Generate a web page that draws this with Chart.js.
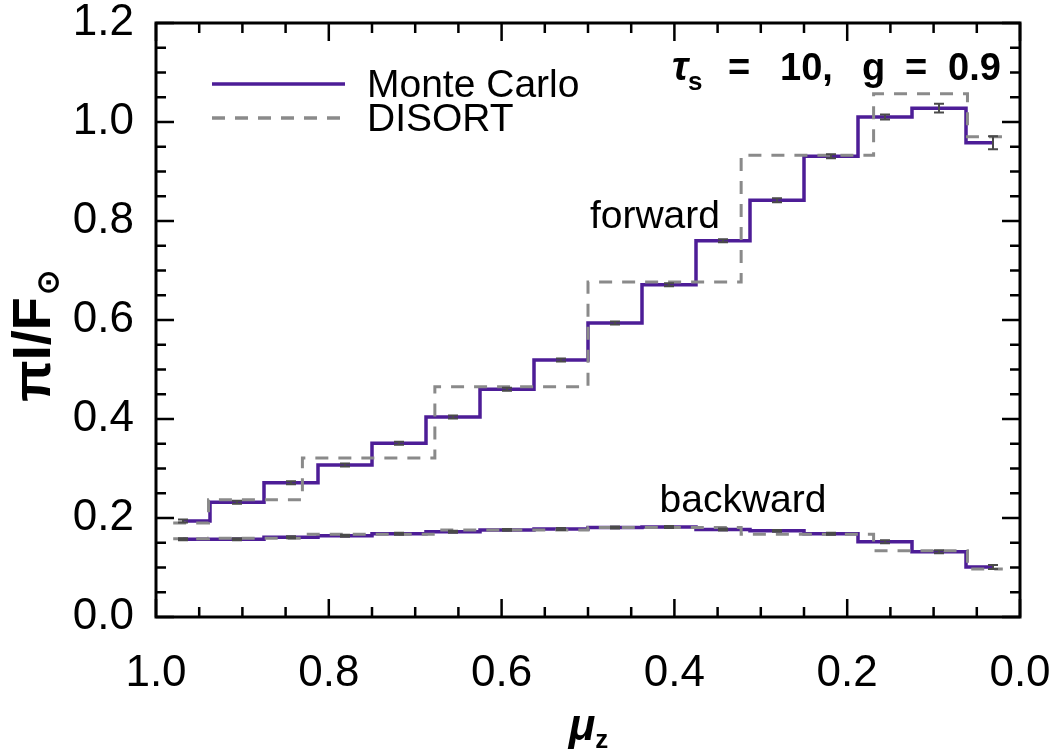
<!DOCTYPE html>
<html>
<head>
<meta charset="utf-8">
<script src="https://cdn.jsdelivr.net/npm/chart.js@4.4.1/dist/chart.umd.min.js"></script>
<style>
    html, body { margin: 0; padding: 0; background: #fff; }
    #wrap { width: 1050px; height: 750px; }
</style>
</head>
<body>
<div id="wrap"><canvas id="chart" width="1050" height="750"></canvas></div>
<script>
// mu_z bin centres of the Monte Carlo histogram
var muMC = [0.96875, 0.90625, 0.84375, 0.78125, 0.71875, 0.65625, 0.59375, 0.53125,
            0.46875, 0.40625, 0.34375, 0.28125, 0.21875, 0.15625, 0.09375, 0.03125];
var mcForward = [0.194, 0.232, 0.271, 0.307, 0.351, 0.404, 0.460, 0.519,
                 0.594, 0.671, 0.760, 0.842, 0.931, 1.010, 1.028, 0.958];
var mcForwardErr = [0.003, 0.003, 0.003, 0.003, 0.003, 0.003, 0.003, 0.003,
                    0.003, 0.003, 0.003, 0.004, 0.004, 0.005, 0.009, 0.013];
var mcBackward = [0.157, 0.157, 0.161, 0.164, 0.168, 0.172, 0.176, 0.178,
                  0.181, 0.182, 0.177, 0.174, 0.168, 0.152, 0.132, 0.101];
var mcBackwardErr = [0.002, 0.002, 0.002, 0.002, 0.002, 0.002, 0.002, 0.002,
                     0.002, 0.002, 0.002, 0.002, 0.002, 0.003, 0.003, 0.004];

// DISORT quadrature angles
var muDisort = [0.9801, 0.8983, 0.7628, 0.5917, 0.4083, 0.2372, 0.1017, 0.0199];
var disortForward = [0.190, 0.237, 0.321, 0.465, 0.677, 0.933, 1.057, 0.970];
var disortBackward = [0.158, 0.159, 0.167, 0.176, 0.181, 0.167, 0.134, 0.097];

var xTicks = [1.0, 0.8, 0.6, 0.4, 0.2, 0.0];
var yTicks = [0.0, 0.2, 0.4, 0.6, 0.8, 1.0, 1.2];

var PURPLE = '#4d1d97';
var GREY = '#8a8a8a';
var FONT = '"Liberation Sans", Arial, sans-serif';

function pts(xs, ys) {
    var out = [];
    for (var i = 0; i < xs.length; i++) {
        out.push({x: xs[i], y: ys[i]});
    }
    return out;
}

// box with inward ticks, error bars and the text labels
var decorations = {
    id: 'decorations',
    afterDatasetsDraw: function (chart) {
        var ctx = chart.ctx;
        var xs = chart.scales.x, ys = chart.scales.y;

        // error bars on the Monte Carlo bins
        ctx.save();
        ctx.strokeStyle = '#4a4a4a';
        ctx.lineWidth = 2;
        var sets = [[mcForward, mcForwardErr], [mcBackward, mcBackwardErr]];
        for (var s = 0; s < sets.length; s++) {
            for (var i = 0; i < muMC.length; i++) {
                var px = xs.getPixelForValue(muMC[i]);
                var top = ys.getPixelForValue(sets[s][0][i] + sets[s][1][i]);
                var bot = ys.getPixelForValue(sets[s][0][i] - sets[s][1][i]);
                ctx.beginPath();
                ctx.moveTo(px, top); ctx.lineTo(px, bot);
                ctx.moveTo(px - 5, top); ctx.lineTo(px + 5, top);
                ctx.moveTo(px - 5, bot); ctx.lineTo(px + 5, bot);
                ctx.stroke();
            }
        }
        ctx.restore();
    },
    afterDraw: function (chart) {
        var ctx = chart.ctx;
        var xs = chart.scales.x, ys = chart.scales.y;
        var a = chart.chartArea;

        ctx.save();
        ctx.strokeStyle = '#000';
        ctx.lineWidth = 3;
        ctx.strokeRect(a.left, a.top, a.right - a.left, a.bottom - a.top);

        ctx.lineWidth = 2.5;
        ctx.beginPath();
        for (var k = 0; k <= 20; k++) {
            var v = k * 0.05;
            var len = (k % 4 === 0) ? 18 : 10;
            var px = xs.getPixelForValue(v);
            ctx.moveTo(px, a.bottom); ctx.lineTo(px, a.bottom - len);
            ctx.moveTo(px, a.top); ctx.lineTo(px, a.top + len);
        }
        for (var k = 0; k <= 24; k++) {
            var v = k * 0.05;
            var len = (k % 4 === 0) ? 18 : 10;
            var py = ys.getPixelForValue(v);
            ctx.moveTo(a.left, py); ctx.lineTo(a.left + len, py);
            ctx.moveTo(a.right, py); ctx.lineTo(a.right - len, py);
        }
        ctx.stroke();

        // legend
        var lx0 = 212, lx1 = 345;
        ctx.lineWidth = 3.5;
        ctx.strokeStyle = PURPLE;
        ctx.beginPath(); ctx.moveTo(lx0, 84); ctx.lineTo(lx1, 84); ctx.stroke();
        ctx.strokeStyle = GREY;
        ctx.setLineDash([13, 10]);
        ctx.beginPath(); ctx.moveTo(lx0, 118); ctx.lineTo(lx1, 118); ctx.stroke();
        ctx.setLineDash([]);

        ctx.fillStyle = '#000';
        ctx.textBaseline = 'alphabetic';
        ctx.textAlign = 'left';
        ctx.font = '39px ' + FONT;
        ctx.fillText('Monte Carlo', 367, 97);
        ctx.fillText('DISORT', 367, 131);

        // curve labels
        ctx.textAlign = 'center';
        ctx.fillText('forward', xs.getPixelForValue(0.4225), ys.getPixelForValue(0.785));
        ctx.fillText('backward', xs.getPixelForValue(0.3206), ys.getPixelForValue(0.213));

        // parameters, top right
        ctx.textAlign = 'left';
        var base = 80;
        ctx.font = 'italic bold 40px ' + FONT;
        ctx.fillText('\u03c4', 672, base);
        ctx.font = 'bold 26px ' + FONT;
        ctx.fillText('s', 688, base + 10);
        ctx.font = 'bold 38px ' + FONT;
        ctx.fillText('=', 728, base);
        ctx.fillText('10,', 780, base);
        ctx.fillText('g', 862, base);
        ctx.fillText('=', 905, base);
        ctx.fillText('0.9', 948, base);

        // x title
        var cx = (a.left + a.right) / 2;
        ctx.font = 'italic bold 44px ' + FONT;
        var wMu = ctx.measureText('\u03bc').width;
        ctx.fillText('\u03bc', cx - wMu / 2 - 6, 740);
        ctx.font = 'bold 26px ' + FONT;
        ctx.fillText('z', cx + wMu / 2 - 6, 748);

        // y title, rotated
        ctx.translate(50, 337);
        ctx.rotate(-Math.PI / 2);
        ctx.font = 'bold 54px ' + FONT;
        var main = '\u03c0I/F';
        var wm = ctx.measureText(main).width;
        ctx.font = 'bold 30px ' + FONT;
        var wsun = ctx.measureText('\u2299').width;
        var start = -(wm + wsun) / 2;
        ctx.font = 'bold 54px ' + FONT;
        ctx.fillText(main, start, 0);
        ctx.font = 'bold 30px ' + FONT;
        ctx.fillText('\u2299', start + wm + 2, 8);
        ctx.restore();
    }
};

new Chart(document.getElementById('chart'), {
    type: 'line',
    data: {
        datasets: [
            {
                label: 'DISORT forward',
                data: pts(muDisort, disortForward),
                borderColor: GREY,
                borderWidth: 3,
                borderDash: [13, 10],
                stepped: 'middle',
                pointRadius: 0
            },
            {
                label: 'DISORT backward',
                data: pts(muDisort, disortBackward),
                borderColor: GREY,
                borderWidth: 3,
                borderDash: [13, 10],
                stepped: 'middle',
                pointRadius: 0
            },
            {
                label: 'Monte Carlo forward',
                data: pts(muMC, mcForward),
                borderColor: PURPLE,
                borderWidth: 3.5,
                stepped: 'middle',
                pointRadius: 0
            },
            {
                label: 'Monte Carlo backward',
                data: pts(muMC, mcBackward),
                borderColor: PURPLE,
                borderWidth: 3.5,
                stepped: 'middle',
                pointRadius: 0
            }
        ]
    },
    options: {
        responsive: false,
        animation: false,
        layout: { padding: { top: 23, right: 30, left: 0, bottom: 0 } },
        plugins: {
            legend: { display: false },
            tooltip: { enabled: false }
        },
        scales: {
            x: {
                type: 'linear',
                reverse: true,
                min: 0,
                max: 1,
                afterBuildTicks: function (scale) {
                    scale.ticks = xTicks.map(function (v) { return {value: v}; });
                },
                afterFit: function (scale) {
                    scale.height = 133;
                    scale.paddingLeft = 0;
                    scale.paddingRight = 0;
                },
                grid: { display: false },
                border: { display: false },
                ticks: {
                    color: '#000',
                    font: { family: FONT, size: 44 },
                    padding: 22,
                    maxRotation: 0,
                    callback: function (v) { return v.toFixed(1); }
                }
            },
            y: {
                type: 'linear',
                min: 0,
                max: 1.2,
                afterBuildTicks: function (scale) {
                    scale.ticks = yTicks.map(function (v) { return {value: v}; });
                },
                afterFit: function (scale) {
                    scale.width = 156;
                    scale.paddingTop = 0;
                    scale.paddingBottom = 0;
                },
                grid: { display: false },
                border: { display: false },
                ticks: {
                    color: '#000',
                    font: { family: FONT, size: 44 },
                    padding: 14,
                    callback: function (v) { return v.toFixed(1); }
                }
            }
        }
    },
    plugins: [decorations]
});
</script>
</body>
</html>
